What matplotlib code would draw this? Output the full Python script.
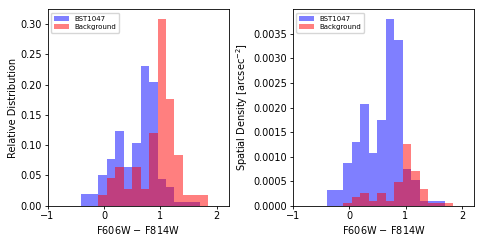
import numpy as np
import matplotlib
matplotlib.use("Agg")
import matplotlib.pyplot as plt

bin_edges = np.round(np.arange(-0.4, 1.85 + 1e-9, 0.15), 3)

left_bst = [0.019, 0.019, 0.051, 0.077, 0.124, 0.064, 0.104, 0.230, 0.204, 0.044, 0.0315, 0.0055, 0.0055, 0.0055, 0.0]
left_bg = [0.0, 0.0, 0.017, 0.045, 0.064, 0.027, 0.064, 0.027, 0.120, 0.309, 0.177, 0.084, 0.0185, 0.0185, 0.0185]

right_bst = [0.00031, 0.00031, 0.00086, 0.00129, 0.00207, 0.00107, 0.00175, 0.00381, 0.00338, 0.00074, 0.00052, 0.000095, 0.000095, 0.000095, 0.0]
right_bg = [0.0, 0.0, 0.00006, 0.00017, 0.00025, 0.0001, 0.00025, 0.0001, 0.00048, 0.00125, 0.0007, 0.00033, 0.00006, 0.00006, 0.00006]

x_label = "F606W $-$ F814W"
y_labels = ["Relative Distribution", "Spatial Density [arcsec$^{-2}$]"]

fig = plt.figure(figsize=(4.85, 2.42), dpi=100)
ax1 = fig.add_axes([0.098, 0.15, 0.3745, 0.8116])
ax2 = fig.add_axes([0.6035, 0.15, 0.3745, 0.8116])

lefts = bin_edges[:-1]
widths = np.diff(bin_edges)
for ax, bst, bg, yl in [(ax1, left_bst, left_bg, y_labels[0]), (ax2, right_bst, right_bg, y_labels[1])]:
    ax.bar(lefts, bst, width=widths, align="edge", color="blue", alpha=0.5, linewidth=0, label="BST1047")
    ax.bar(lefts, bg, width=widths, align="edge", color="red", alpha=0.5, linewidth=0, label="Background")
    ax.set_xlim(-1, 2.22)
    ax.set_xticks([-1, 0, 1, 2])
    ax.set_xlabel(x_label, fontsize=7, labelpad=2)
    ax.set_ylabel(yl, fontsize=7, labelpad=2)
    ax.tick_params(labelsize=7, length=2.5, width=0.6, pad=1.5)
    for s in ax.spines.values():
        s.set_linewidth(0.6)
    ax.legend(loc="upper left", fontsize=5, handlelength=2.2, borderpad=0.4, labelspacing=0.35, framealpha=0.8)

ax1.set_yticks(np.arange(0, 0.31, 0.05))
ax1.yaxis.set_major_formatter(matplotlib.ticker.FormatStrFormatter("%.2f"))
ax2.set_yticks(np.arange(0, 0.0036, 0.0005))
ax2.yaxis.set_major_formatter(matplotlib.ticker.FormatStrFormatter("%.4f"))

fig.savefig("out.png", dpi=100)
